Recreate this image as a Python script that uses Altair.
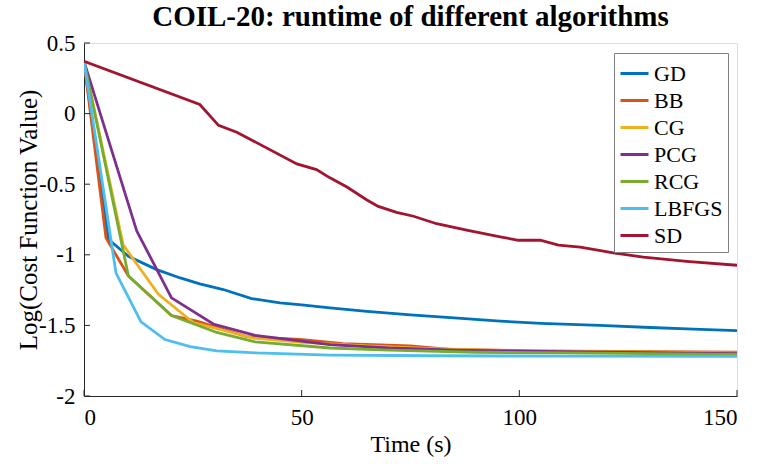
import altair as alt
import pandas as pd

algorithms = ["GD", "BB", "CG", "PCG", "RCG", "LBFGS", "SD"]
colors = ["#0072BD", "#D95319", "#EDB120", "#7E2F8E", "#77AC30", "#4DBEEE", "#A2142F"]

gd_t = [0, 5.6, 10.2, 16.7, 22.1, 26.6, 32.0, 38.5, 45, 50, 56.5, 65, 75, 85, 95.6, 105, 118.5, 130, 140, 150]
gd_v = [0.37, -0.89, -1.01, -1.105, -1.164, -1.206, -1.246, -1.31, -1.34, -1.355, -1.376, -1.40, -1.425,
        -1.447, -1.47, -1.485, -1.50, -1.515, -1.527, -1.537]

bb_t = [0, 5.05, 10.2, 20.1, 25.9, 37.4, 49.6, 59.5, 74.9, 84, 103, 150]
bb_v = [0.37, -0.88, -1.15, -1.43, -1.47, -1.58, -1.60, -1.63, -1.645, -1.67, -1.68, -1.69]

cg_t = [0, 9.0, 17.1, 25.1, 38.9, 50, 65, 80, 100, 150]
cg_v = [0.37, -0.93, -1.28, -1.48, -1.59, -1.62, -1.645, -1.665, -1.68, -1.695]

pcg_t = [0, 12.1, 20.1, 29.7, 39.3, 56.5, 70, 85, 105, 150]
pcg_v = [0.37, -0.83, -1.305, -1.49, -1.57, -1.636, -1.66, -1.675, -1.685, -1.70]

rcg_t = [0, 10.2, 20.1, 30.5, 39.3, 56.5, 70, 90, 110, 150]
rcg_v = [0.37, -1.15, -1.43, -1.55, -1.617, -1.66, -1.675, -1.69, -1.695, -1.705]

lbfgs_t = [0, 7.35, 13.1, 18.6, 24.4, 30.5, 39.7, 56.5, 80, 110, 150]
lbfgs_v = [0.37, -1.13, -1.475, -1.60, -1.65, -1.68, -1.695, -1.71, -1.715, -1.718, -1.72]

sd_t = [0, 26.6, 30.9, 35.1, 48.9, 53.4, 56.5, 60.4, 64.9, 67.6, 71.8, 75.7, 81, 87.9, 95.6, 99.8,
        104.8, 109, 114, 121.6, 128.5, 138.4, 150]
sd_v = [0.37, 0.064, -0.083, -0.132, -0.356, -0.397, -0.455, -0.52, -0.61, -0.657, -0.70, -0.727, -0.78,
        -0.826, -0.873, -0.897, -0.897, -0.932, -0.946, -0.987, -1.017, -1.046, -1.074]

x_ticks = [0, 50, 100, 150]
y_ticks = [-2, -1.5, -1, -0.5, 0, 0.5]

series = {
    "GD": (gd_t, gd_v), "BB": (bb_t, bb_v), "CG": (cg_t, cg_v), "PCG": (pcg_t, pcg_v),
    "RCG": (rcg_t, rcg_v), "LBFGS": (lbfgs_t, lbfgs_v), "SD": (sd_t, sd_v),
}
rows = []
for k, name in enumerate(algorithms):
    ts, vs = series[name]
    for i, (t, v) in enumerate(zip(ts, vs)):
        rows.append({"alg": name, "t": t, "v": v, "i": i, "k": k})
df = pd.DataFrame(rows)

W, H = 653, 353
FONT = "Liberation Serif"
AX = "#262626"

xs = alt.Scale(domain=[0, 150], nice=False, zero=False)
ys = alt.Scale(domain=[-2, 0.5], nice=False, zero=False)

lines = alt.Chart(df).mark_line(strokeWidth=2.8, clip=True).encode(
    x=alt.X("t:Q", scale=xs, title="Time (s)",
            axis=alt.Axis(values=x_ticks, ticks=False, tickSize=0, grid=False, labelPadding=10,
                          labelFont=FONT, labelFontSize=23, labelColor="#000",
                          titleFont=FONT, titleFontSize=24, titleFontWeight="normal",
                          titleColor="#000", titleBaseline="alphabetic", titleY=55,
                          titleX=W / 2, domainColor=AX,
                          labelExpr="'' + datum.value")),
    y=alt.Y("v:Q", scale=ys, title="Log(Cost Function Value)",
            axis=alt.Axis(values=y_ticks, ticks=False, tickSize=0, grid=False, labelPadding=9,
                          labelFont=FONT, labelFontSize=23, labelColor="#000",
                          titleFont=FONT, titleFontSize=25, titleFontWeight="normal",
                          titleColor="#000", titleBaseline="alphabetic", titleX=-48,
                          titleY=H / 2, titleAngle=270, domainColor=AX,
                          labelExpr="'' + datum.value")),
    color=alt.Color("alg:N", scale=alt.Scale(domain=algorithms, range=colors), sort=algorithms,
                    legend=alt.Legend(title=None, orient="none", legendX=530, legendY=10,
                                      symbolType="stroke", symbolSize=784, symbolStrokeWidth=3,
                                      labelFont=FONT, labelFontSize=22, labelColor="#000",
                                      labelOffset=4, rowPadding=-3, padding=5,
                                      strokeColor="#808080", fillColor="#ffffff",
                                      labelLimit=200)),
    detail="alg:N",
    order="i:Q",
)

xt = alt.Chart(pd.DataFrame({"x": x_ticks})).mark_rule(color=AX, strokeWidth=1).encode(
    x=alt.X("x:Q", scale=xs), y=alt.value(H), y2=alt.value(H - 6))
yt = alt.Chart(pd.DataFrame({"y": y_ticks})).mark_rule(color=AX, strokeWidth=1).encode(
    y=alt.Y("y:Q", scale=ys), x=alt.value(0), x2=alt.value(6))

chart = alt.layer(lines, xt, yt).properties(
    width=W, height=H,
    title=alt.TitleParams("COIL-20: runtime of different algorithms", font=FONT, fontSize=29,
                          fontWeight="bold", color="#000", anchor="middle", offset=0),
    padding={"left": 84, "top": 43, "right": 23, "bottom": 68},
    autosize="none",
).configure_view(stroke=None).configure_axis(domainWidth=1).configure(font=FONT)

chart.save("out.html", embed_options={"renderer": "svg", "actions": False})
